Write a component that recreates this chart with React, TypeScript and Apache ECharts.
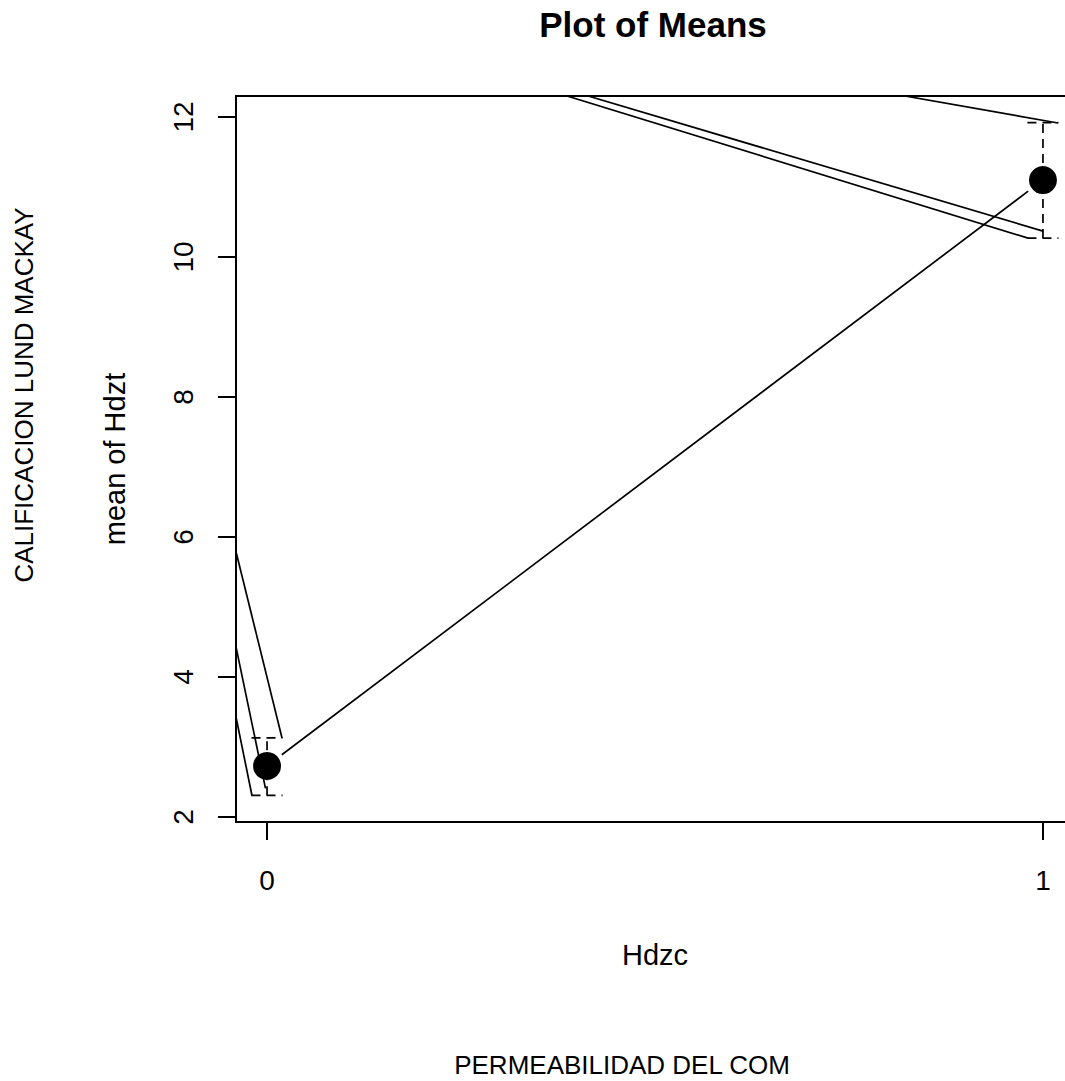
import React, { useEffect, useRef } from "react";
import * as echarts from "echarts";

const FONT = "'Liberation Sans', Arial, Helvetica, sans-serif";

// group positions on the x axis and their tick labels
const xTicks = [0, 1];
const xTickLabels = ["0", "1"];
// means and confidence limits
const means = [2.73, 11.1];
const upperLimits = [3.13, 11.92];
const lowerLimits = [2.31, 10.27];
const yTicks = [2, 4, 6, 8, 10, 12];
// stray segments drawn by the original plot (x1, y1, x2, y2), clipped by the frame
const strayLines = [
  [-0.04, 5.79, 0.0193, 3.13],
  [-0.04, 4.43, -0.002, 2.41],
  [-0.04, 3.43, -0.0193, 2.3],
  [0.3866, 12.3, 0.9807, 10.27],
  [0.4137, 12.3, 1.0, 10.37],
  [0.822, 12.3, 1.0193, 11.914],
];

const X_MIN = -0.04;
const X_MAX = 1.04;
const Y_MIN = 1.929;
const Y_MAX = 12.3;
const CAP = 0.02;
const LW = 1.7;

export default function App() {
  const ref = useRef<HTMLDivElement>(null);
  useEffect(() => {
    document.body.style.margin = "0";
    const chart = echarts.init(ref.current!, null, { renderer: "svg" });

    const ciData = xTicks.map((x, i) => [x, lowerLimits[i], upperLimits[i]]);
    const meanPts = xTicks.map((x, i) => [x, means[i]]);
    const connData: number[][] = [];
    for (let i = 0; i < meanPts.length - 1; i++) {
      connData.push([meanPts[i][0], meanPts[i][1], meanPts[i + 1][0], meanPts[i + 1][1]]);
    }

    const option: any = {
      animation: false,
      backgroundColor: "#fff",
      grid: {
        left: 236,
        top: 96,
        width: 838,
        height: 726,
        outerBoundsMode: "none",
        containLabel: false,
        show: true,
        borderColor: "#000",
        borderWidth: 2,
        backgroundColor: "transparent",
      },
      xAxis: {
        type: "value",
        min: X_MIN,
        max: X_MAX,
        axisLine: { show: false, onZero: false },
        axisTick: { show: true, inside: false, length: 18, customValues: xTicks, lineStyle: { color: "#000", width: 2 } },
        axisLabel: {
          customValues: xTicks,
          formatter: (v: number) => xTickLabels[xTicks.indexOf(v)] ?? String(v),
          fontSize: 28,
          color: "#000",
          fontFamily: FONT,
          margin: 44,
        },
        splitLine: { show: false },
        name: "Hdzc",
        nameLocation: "middle",
        nameGap: 118,
        nameTextStyle: { fontSize: 29, color: "#000", fontFamily: FONT },
      },
      yAxis: {
        type: "value",
        min: Y_MIN,
        max: Y_MAX,
        axisLine: { show: false, onZero: false },
        axisTick: { show: true, inside: false, length: 18, customValues: yTicks, lineStyle: { color: "#000", width: 2 } },
        axisLabel: {
          customValues: yTicks,
          rotate: 90,
          fontSize: 28,
          color: "#000",
          fontFamily: FONT,
          margin: 39,
        },
        splitLine: { show: false },
        name: "mean of Hdzt",
        nameLocation: "middle",
        nameGap: 107,
        nameTextStyle: { fontSize: 29, color: "#000", fontFamily: FONT },
      },
      graphic: [
        {
          type: "text",
          x: 653,
          y: 24,
          style: {
            text: "Plot of Means",
            align: "center",
            verticalAlign: "middle",
            font: `bold 35px ${FONT}`,
            fill: "#000",
          },
        },
        {
          type: "text",
          x: 622,
          y: 1065,
          style: {
            text: "PERMEABILIDAD DEL COM",
            align: "center",
            verticalAlign: "middle",
            font: `26px ${FONT}`,
            fill: "#000",
          },
        },
        {
          type: "text",
          x: 24,
          y: 395,
          rotation: Math.PI / 2,
          style: {
            text: "CALIFICACION LUND MACKAY",
            align: "center",
            verticalAlign: "middle",
            font: `26px ${FONT}`,
            fill: "#000",
          },
        },
      ],
      series: [
        {
          type: "custom",
          name: "stray",
          clip: true,
          data: strayLines,
          encode: { x: [0, 2], y: [1, 3] },
          renderItem: (_p: any, api: any) => {
            const a = api.coord([api.value(0), api.value(1)]);
            const b = api.coord([api.value(2), api.value(3)]);
            return {
              type: "line",
              shape: { x1: a[0], y1: a[1], x2: b[0], y2: b[1] },
              style: { stroke: "#000", lineWidth: LW, fill: null },
            };
          },
        },
        {
          type: "custom",
          name: "ci",
          clip: true,
          data: ciData,
          encode: { x: 0, y: [1, 2] },
          renderItem: (_p: any, api: any) => {
            const x = api.value(0);
            const lo = api.coord([x, api.value(1)]);
            const hi = api.coord([x, api.value(2)]);
            const hw = api.size([CAP, 0])[0];
            const st = { stroke: "#000", lineWidth: LW, lineDash: [9, 6], fill: null };
            return {
              type: "group",
              children: [
                { type: "line", shape: { x1: lo[0], y1: lo[1], x2: hi[0], y2: hi[1] }, style: st },
                { type: "line", shape: { x1: hi[0] - hw, y1: hi[1], x2: hi[0] + hw, y2: hi[1] }, style: st },
                { type: "line", shape: { x1: lo[0] - hw, y1: lo[1], x2: lo[0] + hw, y2: lo[1] }, style: st },
              ],
            };
          },
        },
        {
          type: "custom",
          name: "connect",
          clip: true,
          data: connData,
          encode: { x: [0, 2], y: [1, 3] },
          renderItem: (_p: any, api: any) => {
            const a = api.coord([api.value(0), api.value(1)]);
            const b = api.coord([api.value(2), api.value(3)]);
            const dx = b[0] - a[0];
            const dy = b[1] - a[1];
            const len = Math.sqrt(dx * dx + dy * dy);
            const g = 18.5;
            const ux = dx / len;
            const uy = dy / len;
            return {
              type: "line",
              shape: { x1: a[0] + ux * g, y1: a[1] + uy * g, x2: b[0] - ux * g, y2: b[1] - uy * g },
              style: { stroke: "#000", lineWidth: LW, fill: null },
            };
          },
        },
        {
          type: "scatter",
          name: "means",
          data: meanPts,
          symbol: "circle",
          symbolSize: 28,
          itemStyle: { color: "#000", opacity: 1 },
          z: 5,
        },
      ],
    };
    chart.setOption(option);
    return () => chart.dispose();
  }, []);
  return (
    <div
      ref={ref}
      style={{ position: "absolute", left: 0, top: 0, width: 1065, height: 1081, background: "#fff" }}
    />
  );
}
